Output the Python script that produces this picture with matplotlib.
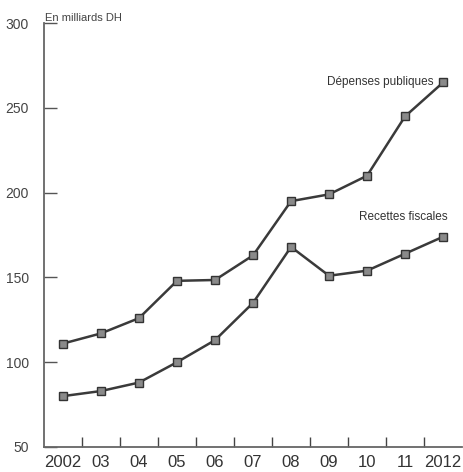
import matplotlib
matplotlib.use("Agg")
import matplotlib.pyplot as plt

years = ["2002", "03", "04", "05", "06", "07", "08", "09", "10", "11", "2012"]
depenses = [111, 117, 126, 148, 148.5, 163, 195, 199, 210, 245, 265]
recettes = [80, 83, 88, 100, 113, 135, 168, 151, 154, 164, 174]
yticks = [50, 100, 150, 200, 250, 300]

plt.rcParams['font.family'] = ['Liberation Sans', 'DejaVu Sans']
fig = plt.figure(figsize=(4.63, 4.72), dpi=100)
ax = fig.add_axes([0.095, 0.053, 0.903, 0.898])
x = list(range(len(years)))
line_kw = dict(color="#3a3a3a", lw=1.8, marker="s", markersize=5.5,
               markerfacecolor="#8a8a8a", markeredgecolor="#333333", markeredgewidth=1.0)
ax.plot(x, depenses, **line_kw)
ax.plot(x, recettes, **line_kw)

ax.set_xlim(-0.5, 10.5)
ax.set_ylim(50, 300)
ax.set_yticks(yticks)
ax.set_yticklabels([str(v) for v in yticks], color="#444444", fontsize=10)
ax.set_xticks(x)
ax.set_xticklabels(years, color="#333333", fontsize=12)
ax.set_xticks([i + 0.5 for i in x[:-1]], minor=True)
ax.tick_params(axis="x", which="major", length=0, pad=6)
ax.tick_params(axis="x", which="minor", direction="in", length=7, color="#444444", width=1)
ax.tick_params(axis="y", direction="in", length=9, color="#555555", width=1, pad=11)
for s in ["top", "right"]:
    ax.spines[s].set_visible(False)
ax.spines["left"].set_color("#666666")
ax.spines["bottom"].set_color("#666666")
ax.spines["left"].set_linewidth(1.3)
ax.spines["bottom"].set_linewidth(1.3)

ax.text(0.002, 1.0, "En milliards DH", transform=ax.transAxes, fontsize=8,
        color="#444444", ha="left", va="bottom")
ax.annotate("Dépenses publiques", xy=(10, 265), xytext=(-7, 0), textcoords="offset points",
            ha="right", va="center", fontsize=8.5, color="#333333")
ax.annotate("Recettes fiscales", xy=(10, 174), xytext=(3, 14), textcoords="offset points",
            ha="right", va="center", fontsize=8.5, color="#333333")

fig.savefig("out.png", dpi=100)
